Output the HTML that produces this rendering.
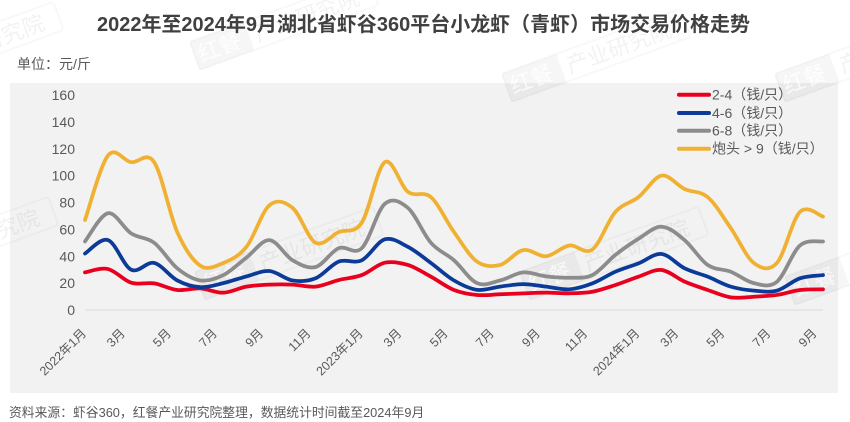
<!DOCTYPE html>
<html>
<head>
<meta charset="utf-8">
<style>
html,body{margin:0;padding:0;background:#fff;}
body{width:850px;height:422px;overflow:hidden;position:relative;}
svg{display:block;}
text{font-family:"Liberation Sans","Noto Sans CJK SC",sans-serif;}
</style>
</head>
<body>
<svg id="chart" width="850" height="422" viewBox="0 0 850 422" xmlns="http://www.w3.org/2000/svg">
  <rect x="0" y="0" width="850" height="422" fill="#ffffff"/>
  <!-- plot background -->
  <rect x="10" y="83" width="828" height="310" fill="#f2f2f2"/>

  <!-- watermarks -->
  <g opacity="0.75">
    <g transform="translate(-115 95) rotate(-20)">
      <rect x="0" y="-30" width="190" height="30" rx="3" fill="none" stroke="#000" stroke-opacity="0.04" stroke-width="2"/>
      <rect x="0" y="-30" width="58" height="30" fill="#000" fill-opacity="0.05"/>
      <text x="4" y="-7" font-size="22" fill="#fff" fill-opacity="0.8">红餐</text>
      <text x="64" y="-7" font-size="22" fill="#000" fill-opacity="0.07">产业研究院</text>
    </g>
    <g transform="translate(200 70) rotate(-20)">
      <rect x="0" y="-30" width="190" height="30" rx="3" fill="none" stroke="#000" stroke-opacity="0.04" stroke-width="2"/>
      <rect x="0" y="-30" width="58" height="30" fill="#000" fill-opacity="0.05"/>
      <text x="4" y="-7" font-size="22" fill="#fff" fill-opacity="0.8">红餐</text>
      <text x="64" y="-7" font-size="22" fill="#000" fill-opacity="0.07">产业研究院</text>
    </g>
    <g transform="translate(512 102) rotate(-20)">
      <rect x="0" y="-30" width="190" height="30" rx="3" fill="none" stroke="#000" stroke-opacity="0.04" stroke-width="2"/>
      <rect x="0" y="-30" width="58" height="30" fill="#000" fill-opacity="0.05"/>
      <text x="4" y="-7" font-size="22" fill="#fff" fill-opacity="0.8">红餐</text>
      <text x="64" y="-7" font-size="22" fill="#000" fill-opacity="0.07">产业研究院</text>
    </g>
    <g transform="translate(785 102) rotate(-20)">
      <rect x="0" y="-30" width="190" height="30" rx="3" fill="none" stroke="#000" stroke-opacity="0.04" stroke-width="2"/>
      <rect x="0" y="-30" width="58" height="30" fill="#000" fill-opacity="0.05"/>
      <text x="4" y="-7" font-size="22" fill="#fff" fill-opacity="0.8">红餐</text>
      <text x="64" y="-7" font-size="22" fill="#000" fill-opacity="0.07">产业研究院</text>
    </g>
    <g transform="translate(-120 290) rotate(-20)">
      <rect x="0" y="-30" width="190" height="30" rx="3" fill="none" stroke="#000" stroke-opacity="0.04" stroke-width="2"/>
      <rect x="0" y="-30" width="58" height="30" fill="#000" fill-opacity="0.05"/>
      <text x="4" y="-7" font-size="22" fill="#fff" fill-opacity="0.8">红餐</text>
      <text x="64" y="-7" font-size="22" fill="#000" fill-opacity="0.07">产业研究院</text>
    </g>
    <g transform="translate(205 300) rotate(-20)">
      <rect x="0" y="-30" width="190" height="30" rx="3" fill="none" stroke="#000" stroke-opacity="0.04" stroke-width="2"/>
      <rect x="0" y="-30" width="58" height="30" fill="#000" fill-opacity="0.05"/>
      <text x="4" y="-7" font-size="22" fill="#fff" fill-opacity="0.8">红餐</text>
      <text x="64" y="-7" font-size="22" fill="#000" fill-opacity="0.07">产业研究院</text>
    </g>
    <g transform="translate(530 300) rotate(-20)">
      <rect x="0" y="-30" width="190" height="30" rx="3" fill="none" stroke="#000" stroke-opacity="0.04" stroke-width="2"/>
      <rect x="0" y="-30" width="58" height="30" fill="#000" fill-opacity="0.05"/>
      <text x="4" y="-7" font-size="22" fill="#fff" fill-opacity="0.8">红餐</text>
      <text x="64" y="-7" font-size="22" fill="#000" fill-opacity="0.07">产业研究院</text>
    </g>
    <g transform="translate(795 305) rotate(-20)">
      <rect x="0" y="-30" width="190" height="30" rx="3" fill="none" stroke="#000" stroke-opacity="0.04" stroke-width="2"/>
      <rect x="0" y="-30" width="58" height="30" fill="#000" fill-opacity="0.05"/>
      <text x="4" y="-7" font-size="22" fill="#fff" fill-opacity="0.8">红餐</text>
      <text x="64" y="-7" font-size="22" fill="#000" fill-opacity="0.07">产业研究院</text>
    </g>
  </g>

  <!-- title -->
  <text x="97" y="31" font-size="20" font-weight="bold" fill="#404040" textLength="653" lengthAdjust="spacingAndGlyphs">2022年至2024年9月湖北省虾谷360平台小龙虾（青虾）市场交易价格走势</text>
  <text x="17" y="69" font-size="14" fill="#595959">单位：元/斤</text>

  <!-- y axis labels -->
  <g font-size="14" fill="#595959" text-anchor="end">
    <text x="75" y="315">0</text>
    <text x="75" y="288.1">20</text>
    <text x="75" y="261.25">40</text>
    <text x="75" y="234.4">60</text>
    <text x="75" y="207.5">80</text>
    <text x="75" y="180.6">100</text>
    <text x="75" y="153.75">120</text>
    <text x="75" y="126.9">140</text>
    <text x="75" y="100">160</text>
  </g>

  <!-- baseline -->
  <line x1="85" y1="310" x2="823" y2="310" stroke="#d9d9d9" stroke-width="1"/>

  <!-- x axis labels -->
  <g font-size="12.5" fill="#595959" text-anchor="end">
    <text x="87" y="334" transform="rotate(-45 87 334)">2022年1月</text>
    <text x="125.7" y="334" transform="rotate(-45 125.7 334)">3月</text>
    <text x="171.8" y="334" transform="rotate(-45 171.8 334)">5月</text>
    <text x="217.9" y="334" transform="rotate(-45 217.9 334)">7月</text>
    <text x="264.1" y="334" transform="rotate(-45 264.1 334)">9月</text>
    <text x="311.5" y="334" transform="rotate(-45 311.5 334)">11月</text>
    <text x="363.7" y="334" transform="rotate(-45 363.7 334)">2023年1月</text>
    <text x="402.4" y="334" transform="rotate(-45 402.4 334)">3月</text>
    <text x="448.6" y="334" transform="rotate(-45 448.6 334)">5月</text>
    <text x="494.7" y="334" transform="rotate(-45 494.7 334)">7月</text>
    <text x="540.8" y="334" transform="rotate(-45 540.8 334)">9月</text>
    <text x="588.2" y="334" transform="rotate(-45 588.2 334)">11月</text>
    <text x="640.4" y="334" transform="rotate(-45 640.4 334)">2024年1月</text>
    <text x="679.2" y="334" transform="rotate(-45 679.2 334)">3月</text>
    <text x="725.3" y="334" transform="rotate(-45 725.3 334)">5月</text>
    <text x="771.4" y="334" transform="rotate(-45 771.4 334)">7月</text>
    <text x="817.5" y="334" transform="rotate(-45 817.5 334)">9月</text>
  </g>

  <!-- series (fallback polylines, replaced by smooth paths via script) -->
  <g id="series" fill="none" stroke-width="3.75" stroke-linejoin="round" stroke-linecap="round">
    <polyline class="fb" stroke="#e8001e" vector-effect="non-scaling-stroke" transform="translate(85 310) scale(23.0625 -1.34375)" points="0,28 1,30.5 2,20.3 3,19.8 4,14.9 5,16.1 6,12.9 7,17.4 8,18.9 9,18.9 10,17.4 11,22.3 12,26 13,35.2 14,33.5 15,24.8 16,14.9 17,11.2 18,11.7 19,12.4 20,12.9 21,12.4 22,13.6 23,18.6 24,24.8 25,29.8 26,21.1 27,14.9 28,9.4 29,9.9 30,11.2 31,14.9 32,15.4"/>
    <polyline class="fb" stroke="#0b3a99" vector-effect="non-scaling-stroke" transform="translate(85 310) scale(23.0625 -1.34375)" points="0,42 1,52 2,30 3,35 4,22 5,17 6,20 7,25 8,29 9,22 10,23.6 11,36 12,37 13,52.6 14,47 15,35 16,22 17,15 18,17.4 19,19.3 20,17.4 21,15.4 22,19.8 23,28.5 24,34.7 25,41.7 26,31 27,24.8 28,17.4 29,14.4 30,14.4 31,23.6 32,26"/>
    <polyline class="fb" stroke="#8c8c8c" vector-effect="non-scaling-stroke" transform="translate(85 310) scale(23.0625 -1.34375)" points="0,51 1,72 2,57 3,50 4,31 5,22 6,26 7,39 8,52 9,37 10,32 11,46 12,46 13,79 14,76 15,50 16,37 17,20 18,22 19,28 20,25 21,24 22,26 23,41 24,53 25,62 26,52 27,33.5 28,28.5 29,20 30,21 31,48 32,51"/>
    <polyline class="fb" stroke="#f0b132" vector-effect="non-scaling-stroke" transform="translate(85 310) scale(23.0625 -1.34375)" points="0,67 1,115 2,110 3,110 4,58 5,33 6,35 7,47 8,78 9,76 10,50 11,58 12,65 13,110 14,88 15,84 16,58 17,36 18,33.5 19,44.6 20,40 21,48 22,45 23,73 24,84 25,100 26,90 27,84 28,61 29,35 30,35 31,73 32,69.5"/>
  </g>

  <!-- legend -->
  <g stroke-width="4" stroke-linecap="round">
    <line x1="679" y1="94.7" x2="709" y2="94.7" stroke="#e8001e"/>
    <line x1="679" y1="113" x2="709" y2="113" stroke="#0b3a99"/>
    <line x1="679" y1="130.7" x2="709" y2="130.7" stroke="#8c8c8c"/>
    <line x1="679" y1="148.7" x2="709" y2="148.7" stroke="#f0b132"/>
  </g>
  <g font-size="14" fill="#595959">
    <text x="712" y="99.7">2-4（钱/只）</text>
    <text x="712" y="118">4-6（钱/只）</text>
    <text x="712" y="135.7">6-8（钱/只）</text>
    <text x="712" y="153.7">炮头 &gt; 9（钱/只）</text>
  </g>

  <!-- footer -->
  <text x="9" y="417" font-size="12.8" fill="#595959">资料来源：虾谷360，红餐产业研究院整理，数据统计时间截至2024年9月</text>
</svg>
<script>
(function(){
  var series = [
    {c:"#e8001e", v:[28,30.5,20.3,19.8,14.9,16.1,12.9,17.4,18.9,18.9,17.4,22.3,26,35.2,33.5,24.8,14.9,11.2,11.7,12.4,12.9,12.4,13.6,18.6,24.8,29.8,21.1,14.9,9.4,9.9,11.2,14.9,15.4]},
    {c:"#0b3a99", v:[42,52,30,35,22,17,20,25,29,22,23.6,36,37,52.6,47,35,22,15,17.4,19.3,17.4,15.4,19.8,28.5,34.7,41.7,31,24.8,17.4,14.4,14.4,23.6,26]},
    {c:"#8c8c8c", v:[51,72,57,50,31,22,26,39,52,37,32,46,46,79,76,50,37,20,22,28,25,24,26,41,53,62,52,33.5,28.5,20,21,48,51]},
    {c:"#f0b132", v:[67,115,110,110,58,33,35,47,78,76,50,58,65,110,88,84,58,36,33.5,44.6,40,48,45,73,84,100,90,84,61,35,35,73,69.5]}
  ];
  var g = document.getElementById("series");
  if(!g) return;
  var fbs = g.querySelectorAll(".fb");
  for (var k=0;k<fbs.length;k++) fbs[k].parentNode.removeChild(fbs[k]);
  var NS = "http://www.w3.org/2000/svg";
  series.forEach(function(s){
    var p = s.v.map(function(v,i){return [85+i*23.0625, 310-v*1.34375];});
    var d = "M"+p[0][0].toFixed(2)+" "+p[0][1].toFixed(2);
    for (var i=0;i<p.length-1;i++){
      var p0 = p[i-1]||p[i], p1=p[i], p2=p[i+1], p3=p[i+2]||p[i+1];
      var c1x = p1[0]+(p2[0]-p0[0])/6, c1y = p1[1]+(p2[1]-p0[1])/6;
      var c2x = p2[0]-(p3[0]-p1[0])/6, c2y = p2[1]-(p3[1]-p1[1])/6;
      d += " C"+c1x.toFixed(2)+" "+c1y.toFixed(2)+" "+c2x.toFixed(2)+" "+c2y.toFixed(2)+" "+p2[0].toFixed(2)+" "+p2[1].toFixed(2);
    }
    var path = document.createElementNS(NS,"path");
    path.setAttribute("d", d);
    path.setAttribute("stroke", s.c);
    g.appendChild(path);
  });
})();
</script>
</body>
</html>
